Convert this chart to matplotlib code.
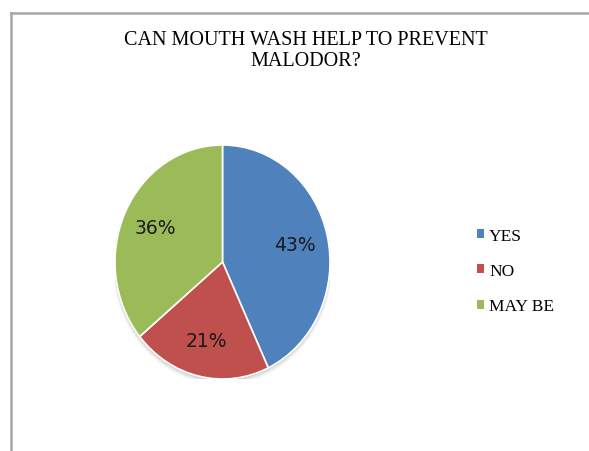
import matplotlib.pyplot as plt
from matplotlib.patches import Patch, Ellipse
from matplotlib.lines import Line2D

# Survey answers
labels = ["YES", "NO", "MAY BE"]
shares = [43, 21, 36]
colors = ["#4F81BD", "#C0504D", "#9BBB59"]
title = "CAN MOUTH WASH HELP TO PREVENT\nMALODOR?"

W, H = 589, 452
fig = plt.figure(figsize=(W / 100, H / 100), dpi=100)

# Chart frame (runs off the right and bottom edges)
fig.add_artist(Line2D([11 / W, 11 / W], [0, 1 - 14 / H], color="#A6A6A6", lw=1.8,
                      transform=fig.transFigure))
fig.add_artist(Line2D([11 / W, 1], [1 - 14 / H, 1 - 14 / H], color="#A6A6A6", lw=1.8,
                      transform=fig.transFigure))

fig.text(306 / W, 1 - 51 / H, title, ha="center", va="center",
         family="Liberation Serif", fontsize=14.5, linespacing=1.2)

# Pie area, slightly taller than wide
ax = fig.add_axes([115 / W, 1 - 380 / H, 215 / W, 234 / H])

# soft shadow under the pie
for k, a in enumerate([0.10, 0.07, 0.04]):
    ax.add_patch(Ellipse((0, -0.015 - 0.008 * k), 2.0 + 0.02 * k, 2.0 + 0.02 * k,
                         facecolor="#000000", alpha=a, edgecolor="none", zorder=0))

wedges, texts, autotexts = ax.pie(
    shares, colors=colors, startangle=90, counterclock=False,
    autopct="%d%%", pctdistance=0.69,
    wedgeprops=dict(edgecolor="white", linewidth=1.2, zorder=2),
    textprops=dict(fontsize=13.5, color="#1a1a1a", family="DejaVu Sans"),
)
for t in autotexts:
    t.set_zorder(3)
ax.set_aspect("auto")
ax.set_xlim(-1.0, 1.0)
ax.set_ylim(-1.0, 1.0)
ax.axis("off")

handles = [Patch(facecolor=c, edgecolor="none") for c in colors]
fig.legend(handles, labels, loc="center left",
           bbox_to_anchor=(477 / W, 1 - 272 / H), frameon=False,
           prop=dict(family="Liberation Serif", size=12.5),
           handlelength=0.4, handleheight=0.4, handletextpad=0.3,
           labelspacing=1.12, borderpad=0, borderaxespad=0)

fig.savefig("out.png", dpi=100, facecolor="white")
